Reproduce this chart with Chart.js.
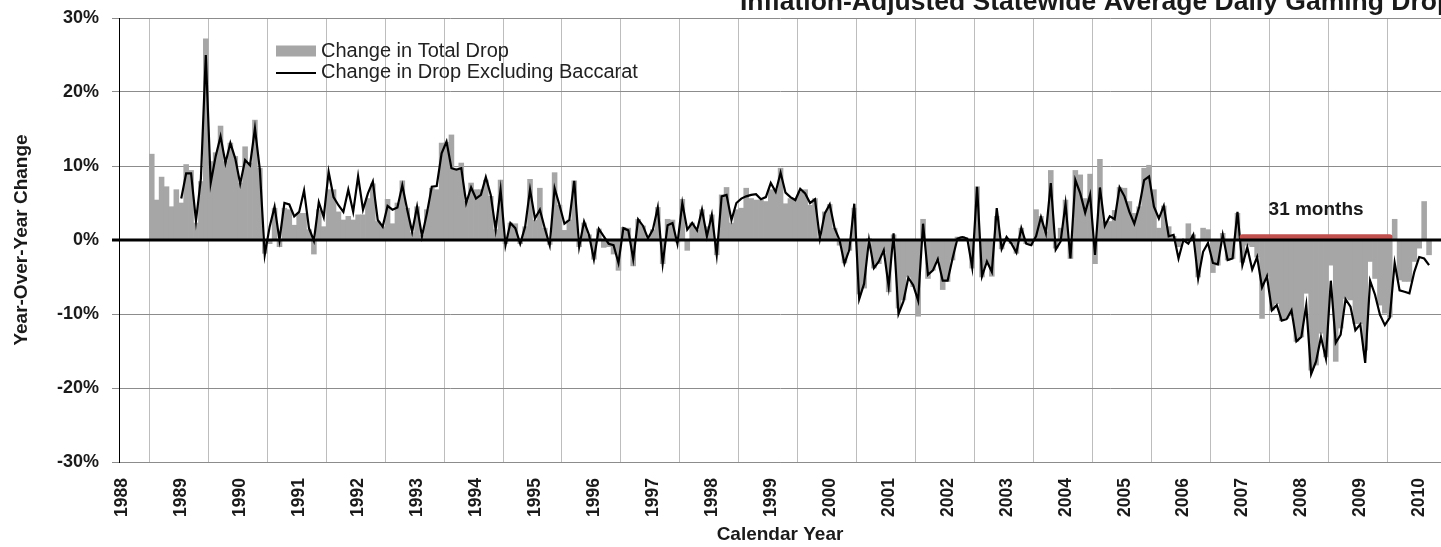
<!DOCTYPE html>
<html>
<head>
<meta charset="utf-8">
<script src="https://cdn.jsdelivr.net/npm/chart.js@4.4.1/dist/chart.umd.min.js"></script>
<style>
  html, body { margin: 0; padding: 0; background: #fff; overflow: hidden; }
  #wrap { position: relative; width: 1441px; height: 547px; }
</style>
</head>
<body>
<div id="wrap"><canvas id="chart"></canvas></div>
<script>
// year labels, one per 12 months (first observation month = index 0)
const years = ['1988', '1989', '1990', '1991', '1992', '1993', '1994', '1995', '1996', '1997', '1998', '1999',
  '2000', '2001', '2002', '2003', '2004', '2005', '2006', '2007', '2008', '2009', '2010'];

// monthly year-over-year change in total drop, %
const totalDrop = [
  11.6, 5.4, 8.5, 7.2, 4.5, 6.8, 5.0, 10.2, 9.4, 2.3, 7.9, 27.2,
  10.6, 11.8, 15.4, 10.6, 13.1, 11.3, 7.7, 12.6, 10.4, 16.2, 9.7, -1.8,
  -0.5, 4.3, -0.9, 4.3, 4.1, 2.0, 3.6, 3.6, 1.4, -1.9, 4.1, 1.8,
  6.8, 6.8, 3.8, 2.7, 3.2, 2.7, 3.4, 3.4, 5.6, 7.6, 2.5, 1.8,
  5.5, 2.2, 5.0, 8.0, 4.3, 1.0, 4.5, 0.6, 4.1, 7.0, 6.8, 13.1,
  13.2, 14.2, 9.7, 10.4, 5.2, 7.7, 6.8, 6.8, 8.1, 5.9, 1.4, 8.1,
  -0.5, 2.3, 2.2, -0.5, 1.8, 8.2, 2.7, 7.0, 1.6, -0.6, 9.1, 4.7,
  1.3, 2.7, 8.0, -0.9, 2.3, 0.7, -2.6, 1.5, -1.0, -0.9, -1.9, -4.1,
  1.7, 1.6, -3.5, 2.8, 1.9, 0.2, 1.4, 4.4, -3.2, 2.8, 2.7, -0.3,
  5.5, -1.4, 2.3, 1.3, 4.1, 1.8, 3.4, -2.0, 6.1, 7.1, 2.3, 4.1,
  4.3, 7.0, 5.6, 5.4, 5.4, 5.2, 6.8, 6.8, 9.7, 4.9, 5.6, 5.6,
  6.5, 6.8, 4.7, 5.6, 0.3, 3.8, 4.8, 1.6, -0.7, -3.1, -1.4, 4.3,
  -7.3, -6.5, 0.2, -3.8, -3.2, -1.6, -7.0, 0.7, -9.2, -8.1, -5.0, -6.3,
  -10.3, 2.8, -5.2, -4.1, -2.7, -6.7, -5.6, -2.7, 0.4, 0.5, 0.0, -3.8,
  7.2, -5.0, -3.0, -4.9, 3.2, -1.2, 0.2, -0.5, -1.8, 1.6, -0.5, -0.7,
  4.1, 3.2, 1.1, 9.4, -1.1, 1.6, 5.4, -2.5, 9.4, 8.8, 5.6, 8.9,
  -3.2, 10.9, 2.5, 2.5, 4.0, 7.1, 7.0, 5.2, 3.6, 4.5, 9.7, 10.1,
  6.8, 1.6, 4.6, 1.8, 0.5, -0.9, 0.0, 2.2, 0.7, -5.0, 1.6, 1.4,
  -4.4, -3.4, 0.9, -2.7, -2.5, 3.6, -3.0, -0.7, -0.9, -2.3, -10.6, -4.9,
  -9.5, -8.6, -10.9, -10.6, -10.2, -13.7, -13.1, -7.2, -17.6, -16.9, -12.6, -15.8,
  -3.4, -16.4, -11.9, -7.9, -8.1, -11.3, -11.3, -14.9, -2.9, -5.2, -8.8, -9.9,
  -10.4, 2.8, -5.4, -5.6, -5.6, -2.9, -1.1, 5.2, -2.0
];

// monthly year-over-year change in drop excluding baccarat, %
const dropExBaccarat = [
  null, null, null, null, null, null, 5.6, 9.0, 9.0, 2.6, 8.3, 25.0,
  7.7, 11.3, 14.0, 10.4, 13.1, 11.0, 7.6, 10.8, 10.1, 15.1, 9.5, -2.0,
  1.8, 4.5, 0.0, 5.0, 4.8, 3.2, 3.8, 6.7, 1.6, -0.1, 5.1, 3.1,
  9.2, 5.8, 4.7, 3.8, 6.8, 3.8, 8.6, 4.1, 6.3, 7.9, 2.7, 1.8,
  4.6, 4.1, 4.4, 7.4, 4.1, 1.1, 4.5, 0.5, 3.6, 7.2, 7.3, 11.7,
  13.3, 9.7, 9.5, 9.7, 5.0, 7.1, 5.6, 6.1, 8.5, 6.1, 1.4, 6.8,
  -0.7, 2.3, 1.6, -0.5, 1.8, 6.8, 2.9, 4.1, 1.6, -0.7, 7.0, 4.7,
  2.2, 2.7, 8.0, -0.9, 2.5, 0.7, -2.6, 1.5, 0.5, -0.5, -0.7, -3.1,
  1.6, 1.3, -2.6, 2.8, 1.9, 0.2, 1.4, 4.4, -3.2, 2.0, 2.3, -0.5,
  5.0, 1.4, 2.3, 1.3, 4.1, 0.5, 3.4, -2.0, 5.9, 6.1, 2.7, 5.0,
  5.6, 5.9, 6.1, 6.2, 5.5, 5.8, 7.7, 6.5, 9.1, 6.4, 5.8, 5.4,
  6.9, 6.3, 5.0, 5.5, 0.2, 3.6, 4.8, 1.6, 0.0, -3.2, -1.3, 4.9,
  -8.0, -5.9, 0.0, -3.8, -2.9, -1.4, -6.3, 0.9, -10.0, -8.3, -5.1, -6.1,
  -8.2, 2.2, -4.7, -4.1, -2.6, -5.5, -5.5, -2.5, 0.2, 0.4, 0.2, -3.7,
  7.2, -4.9, -2.9, -4.3, 4.3, -1.2, 0.4, -0.5, -1.7, 1.6, -0.5, -0.7,
  0.5, 3.1, 0.9, 7.7, -1.3, -0.2, 4.9, -2.5, 8.1, 6.3, 3.7, 6.1,
  -2.0, 7.1, 1.9, 3.2, 2.8, 7.1, 5.9, 3.8, 2.2, 4.5, 8.1, 8.6,
  4.5, 2.9, 4.6, 0.5, 0.7, -2.5, 0.0, -0.5, 0.7, -5.2, -1.6, -0.4,
  -3.1, -3.3, 0.7, -2.7, -2.5, 3.8, -3.4, -1.0, -4.0, -2.3, -6.4, -4.9,
  -9.5, -8.8, -10.9, -10.7, -9.5, -13.7, -13.1, -8.8, -18.1, -16.4, -13.1, -16.0,
  -5.5, -13.9, -12.8, -8.0, -9.0, -12.2, -11.4, -16.6, -5.5, -7.4, -10.1, -11.5,
  -10.5, -3.1, -6.8, -7.0, -7.2, -4.3, -2.3, -2.5, -3.4
];

// 31-month run of declines: first and last month index
const streak = [222, 252];
const streakText = '31 months';

const family = "'Liberation Sans', Arial, sans-serif";
const ink = '#1a1a1a';

const monthX = i => i + 0.5;
const barPoints = totalDrop.map((v, i) => ({ x: monthX(i), y: v }));
const linePoints = dropExBaccarat.map((v, i) => ({ x: monthX(i), y: v }));
const streakPoints = streak.map(i => ({ x: monthX(i), y: 0.4 }));

const overlay = {
  id: 'overlay',
  afterDatasetsDraw(chart) {
    const { ctx, chartArea: a, scales: { x, y } } = chart;
    ctx.save();

    // zero line sits on top of the bars
    const y0 = y.getPixelForValue(0);
    ctx.strokeStyle = '#000';
    ctx.lineWidth = 3;
    ctx.beginPath();
    ctx.moveTo(a.left - 7, y0);
    ctx.lineTo(a.right, y0);
    ctx.stroke();

    // streak label
    ctx.fillStyle = ink;
    ctx.font = 'bold 19px ' + family;
    ctx.textAlign = 'center';
    ctx.textBaseline = 'middle';
    ctx.fillText(streakText, x.getPixelForValue((monthX(streak[0]) + monthX(streak[1])) / 2), y.getPixelForValue(4.05));

    // legend inside plot
    const ds = chart.data.datasets;
    const lx = a.left + 157, ly = a.top + 33;
    ctx.fillStyle = ds[1].backgroundColor;
    ctx.fillRect(lx, ly - 5.5, 40, 11);
    ctx.strokeStyle = ds[0].borderColor;
    ctx.lineWidth = 2;
    ctx.beginPath();
    ctx.moveTo(lx, ly + 22);
    ctx.lineTo(lx + 40, ly + 22);
    ctx.stroke();
    ctx.fillStyle = '#222';
    ctx.font = '20px ' + family;
    ctx.textAlign = 'left';
    ctx.fillText(ds[1].label, lx + 45, ly);
    ctx.fillText(ds[0].label, lx + 45, ly + 21);

    // title, partly cut by the top edge
    ctx.fillStyle = ink;
    ctx.font = 'bold 26.5px ' + family;
    ctx.textBaseline = 'alphabetic';
    ctx.fillText('Inflation-Adjusted Statewide Average Daily Gaming Drop', 740, 10);
    ctx.restore();
  }
};

new Chart(document.getElementById('chart'), {
  data: {
    datasets: [
      {
        type: 'line',
        label: 'Change in Drop Excluding Baccarat',
        data: linePoints,
        borderColor: '#000',
        borderWidth: 2.2,
        pointRadius: 0,
        tension: 0,
        order: 1
      },
      {
        type: 'bar',
        label: 'Change in Total Drop',
        data: barPoints,
        backgroundColor: '#a6a6a6',
        borderWidth: 0,
        barPercentage: 1,
        categoryPercentage: 1,
        order: 2
      },
      {
        type: 'line',
        label: streakText,
        data: streakPoints,
        borderColor: '#c0504d',
        borderWidth: 5.5,
        borderCapStyle: 'round',
        pointRadius: 0,
        order: 0
      }
    ]
  },
  options: {
    responsive: true,
    maintainAspectRatio: false,
    animation: false,
    layout: { padding: { top: 18, left: 0, right: 0, bottom: 0 } },
    plugins: { legend: { display: false }, tooltip: { enabled: false } },
    scales: {
      x: {
        type: 'linear',
        offset: false,
        min: -6.17,
        max: 262.93,
        afterBuildTicks: s => { s.ticks = years.map((yr, k) => ({ value: 12 * k })); },
        afterFit: s => { s.height = 85; s.paddingLeft = 0; s.paddingRight = 0; },
        grid: { offset: false, color: '#bdbdbd', lineWidth: 1, drawTicks: false },
        border: { color: '#8c8c8c', width: 1 },
        ticks: {
          autoSkip: false,
          minRotation: 90,
          maxRotation: 90,
          padding: 16,
          labelOffset: -26.8,
          color: ink,
          font: { family, size: 17.5, weight: 'bold' },
          callback: (v, i) => years[i]
        },
        title: {
          display: true,
          text: 'Calendar Year',
          color: ink,
          font: { family, size: 19, weight: 'bold' },
          padding: { top: 0, bottom: 1 }
        }
      },
      y: {
        min: -30,
        max: 30,
        ticks: {
          stepSize: 10,
          padding: 13,
          color: ink,
          font: { family, size: 18, weight: 'bold' },
          callback: v => v + '%'
        },
        afterFit: s => { s.width = 119; s.paddingTop = 0; s.paddingBottom = 0; },
        grid: { color: '#8c8c8c', lineWidth: 1, tickLength: 7 },
        border: { color: '#000', width: 1 },
        title: {
          display: true,
          text: 'Year-Over-Year Change',
          color: ink,
          font: { family, size: 19, weight: 'bold' },
          padding: { top: 10, bottom: 0 }
        }
      }
    }
  },
  plugins: [overlay]
});
</script>
</body>
</html>
